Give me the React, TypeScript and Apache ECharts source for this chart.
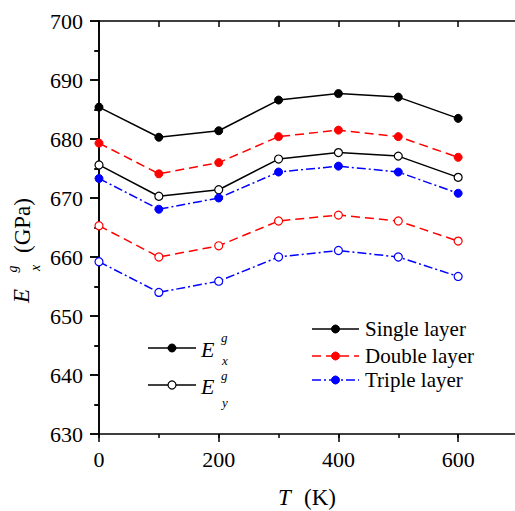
import React, { useEffect, useRef } from 'react';
import * as echarts from 'echarts';

const T = [0, 100, 200, 300, 400, 500, 600];
const singleEx = [685.4, 680.3, 681.4, 686.6, 687.7, 687.1, 683.5];
const singleEy = [675.6, 670.3, 671.4, 676.6, 677.7, 677.1, 673.5];
const doubleEx = [679.3, 674.1, 676.0, 680.4, 681.5, 680.4, 676.9];
const doubleEy = [665.3, 660.0, 661.9, 666.1, 667.1, 666.1, 662.7];
const tripleEx = [673.3, 668.1, 670.0, 674.4, 675.4, 674.4, 670.8];
const tripleEy = [659.2, 654.0, 655.9, 660.0, 661.1, 660.0, 656.7];
const layerNames = ['Single layer', 'Double layer', 'Triple layer'];

const FONT = 'Liberation Serif, Times New Roman, serif';
const BLACK = '#000000';
const RED = '#ff0000';
const BLUE = '#0000ff';
const DASH_RED = [9, 5];
const DASH_BLUE = [9, 3, 2, 3];

function pairs(vals: number[]) {
  return T.map((t, i) => [t, vals[i]]);
}

function mkSeries(name: string, vals: number[], color: string, dash: any, open: boolean) {
  return {
    name,
    type: 'line',
    xAxisIndex: 0,
    yAxisIndex: 0,
    data: pairs(vals),
    symbol: 'circle',
    symbolSize: 8,
    lineStyle: { color, width: 1.5, type: dash },
    itemStyle: open
      ? { color: '#ffffff', borderColor: color, borderWidth: 1.2 }
      : { color, borderColor: color, borderWidth: 1 },
  };
}

function legendRow(y: number, x1: number, x2: number, color: string, dash: any, open: boolean) {
  const els: any[] = [
    {
      type: 'line',
      shape: { x1, y1: y, x2, y2: y },
      style: { stroke: color, lineWidth: 1.5, lineDash: dash },
    },
    {
      type: 'circle',
      shape: { cx: (x1 + x2) / 2, cy: y, r: 4 },
      style: open
        ? { fill: '#ffffff', stroke: color, lineWidth: 1.2 }
        : { fill: color, stroke: color, lineWidth: 1 },
    },
  ];
  return els;
}

function txt(x: number, y: number, text: string, size: number, italic: boolean, align = 'left') {
  return {
    type: 'text', x, y,
    style: {
      text, fontSize: size, fontStyle: italic ? 'italic' : 'normal', fontFamily: FONT,
      fill: BLACK, verticalAlign: 'middle', align,
    },
  };
}

export default function App() {
  const ref = useRef<HTMLDivElement>(null);
  useEffect(() => {
    const chart = echarts.init(ref.current!, null, { renderer: 'svg' });
    const axisLine = { show: true, lineStyle: { color: BLACK, width: 1.6 } };
    const option: any = {
      animation: false,
      backgroundColor: '#ffffff',
      textStyle: { fontFamily: FONT },
      grid: { left: 99, top: 21, right: 22, bottom: 77, containLabel: false },
      xAxis: [
        {
          type: 'value', position: 'bottom', min: 0, max: 700, interval: 200,
          axisLine,
          axisTick: { show: true, inside: false, length: 8, lineStyle: { color: BLACK, width: 1.5 } },
          axisLabel: { show: true, showMaxLabel: false, fontSize: 22, fontFamily: FONT, color: BLACK, margin: 14 },
          splitLine: { show: false },
        },
        {
          type: 'value', position: 'bottom', min: 0, max: 700, interval: 100,
          axisLine: { show: false },
          axisTick: { show: true, inside: false, length: 4, lineStyle: { color: BLACK, width: 1.5 } },
          axisLabel: { show: false },
          splitLine: { show: false },
        },
        {
          type: 'value', position: 'top', min: 0, max: 700, interval: 100,
          axisLine,
          axisTick: { show: true, inside: true, length: 6, lineStyle: { color: BLACK, width: 1.5 } },
          axisLabel: { show: false },
          splitLine: { show: false },
        },
      ],
      yAxis: [
        {
          type: 'value', position: 'left', min: 630, max: 700, interval: 10,
          axisLine,
          axisTick: { show: true, inside: false, length: 9, lineStyle: { color: BLACK, width: 1.5 } },
          minorTick: { show: true, splitNumber: 2, length: 4, lineStyle: { color: BLACK, width: 1.5 } },
          axisLabel: { show: true, fontSize: 22, fontFamily: FONT, color: BLACK, margin: 16 },
          splitLine: { show: false },
        },
        {
          type: 'value', position: 'right', min: 630, max: 700, interval: 10,
          axisLine,
          axisTick: { show: true, inside: true, length: 9, lineStyle: { color: BLACK, width: 1.5 } },
          minorTick: { show: true, splitNumber: 2, length: 5, lineStyle: { color: BLACK, width: 1.5 } },
          axisLabel: { show: false },
          splitLine: { show: false },
        },
      ],
      series: [
        mkSeries('Single Ex', singleEx, BLACK, 'solid', false),
        mkSeries('Single Ey', singleEy, BLACK, 'solid', true),
        mkSeries('Double Ex', doubleEx, RED, DASH_RED, false),
        mkSeries('Double Ey', doubleEy, RED, DASH_RED, true),
        mkSeries('Triple Ex', tripleEx, BLUE, DASH_BLUE, false),
        mkSeries('Triple Ey', tripleEy, BLUE, DASH_BLUE, true),
      ],
      graphic: [
        ...legendRow(329, 312, 359, BLACK, null, false),
        ...legendRow(356, 312, 359, RED, DASH_RED, false),
        ...legendRow(380, 312, 359, BLUE, DASH_BLUE, false),
        ...layerNames.map((n, i) => txt(365, [329, 356, 380][i], n, 21, false)),
        ...legendRow(348, 148, 196, BLACK, null, false),
        ...legendRow(385, 148, 196, BLACK, null, true),
        txt(201, 349, 'E', 22, true),
        txt(221, 337, 'g', 13, true),
        txt(222, 360, 'x', 13, true),
        txt(201, 386, 'E', 22, true),
        txt(221, 375, 'g', 13, true),
        txt(222, 402, 'y', 13, true),
        txt(278, 497, 'T', 23, true),
        txt(304, 497, '(K)', 23, false),
        {
          type: 'group', x: 21, y: 303, rotation: Math.PI / 2,
          children: [
            txt(0, 0, 'E', 23, true),
            txt(34, -9, 'g', 14, true, 'center'),
            txt(35, 14, 'x', 14, true, 'center'),
            txt(50, 1, '(GPa)', 23, false),
          ],
        },
      ],
    };
    chart.setOption(option);
    return () => chart.dispose();
  }, []);
  return (
    <div style={{ position: 'absolute', left: 0, top: 0, width: 515, height: 511, overflow: 'hidden', background: '#fff' }}>
      <div ref={ref} style={{ width: 540, height: 511 }} />
    </div>
  );
}
